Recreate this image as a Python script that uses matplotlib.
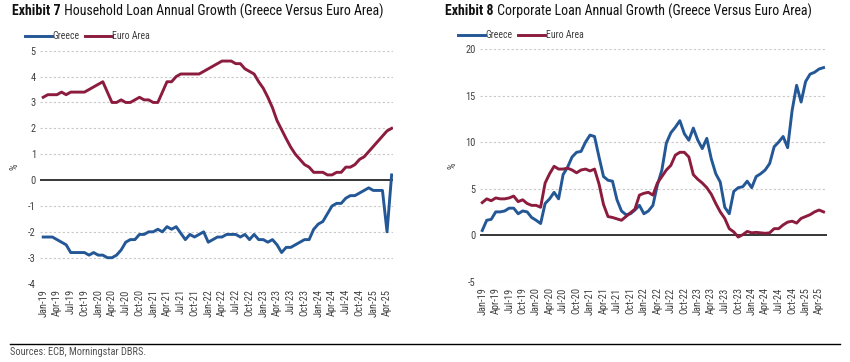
import matplotlib
matplotlib.use("Agg")
import matplotlib.pyplot as plt
from matplotlib import font_manager
import pandas as pd

# ---------------- data ----------------
months = pd.date_range("2019-01-01", periods=77, freq="MS")
month_labels = [d.strftime("%b-%y") for d in months]

household_greece = [
    -2.2, -2.2, -2.2, -2.3, -2.4, -2.5, -2.8, -2.8, -2.8, -2.8,
    -2.9, -2.8, -2.9, -2.9, -3.0, -3.0, -2.9, -2.7, -2.4, -2.3,
    -2.3, -2.1, -2.1, -2.0, -2.0, -1.9, -2.0, -1.8, -1.9, -1.8,
    -2.05, -2.3, -2.1, -2.2, -2.1, -2.0, -2.4, -2.3, -2.2, -2.2,
    -2.1, -2.1, -2.1, -2.2, -2.1, -2.3, -2.1, -2.3, -2.3, -2.4,
    -2.3, -2.5, -2.8, -2.6, -2.6, -2.5, -2.4, -2.3, -2.3, -1.9,
    -1.7, -1.6, -1.3, -1.0, -0.9, -0.9, -0.7, -0.6, -0.6, -0.5,
    -0.4, -0.3, -0.4, -0.4, -0.4, -2.0, 0.2,
]
household_euro = [
    3.2, 3.3, 3.3, 3.3, 3.4, 3.3, 3.4, 3.4, 3.4, 3.4,
    3.5, 3.6, 3.7, 3.8, 3.4, 3.0, 3.0, 3.1, 3.0, 3.0,
    3.1, 3.2, 3.1, 3.1, 3.0, 3.0, 3.4, 3.8, 3.8, 4.0,
    4.1, 4.1, 4.1, 4.1, 4.1, 4.2, 4.3, 4.4, 4.5, 4.6,
    4.6, 4.6, 4.5, 4.5, 4.3, 4.2, 4.1, 3.8, 3.55, 3.2,
    2.8, 2.3, 1.95, 1.6, 1.27, 1.0, 0.8, 0.6, 0.5, 0.3,
    0.3, 0.3, 0.2, 0.2, 0.3, 0.3, 0.5, 0.5, 0.6, 0.8,
    0.9, 1.1, 1.3, 1.5, 1.7, 1.9, 2.0,
]
corporate_greece = [
    0.5, 1.6, 1.7, 2.5, 2.5, 2.6, 2.9, 2.9, 2.3, 2.6,
    2.5, 1.9, 1.6, 1.25, 3.4, 3.9, 4.6, 3.9, 6.5, 7.3,
    8.4, 8.9, 9.0, 10.0, 10.75, 10.6, 8.4, 6.3, 5.9, 5.8,
    3.8, 2.6, 2.2, 2.3, 2.7, 3.2, 2.3, 2.6, 3.2, 5.4,
    7.0, 9.9, 11.0, 11.6, 12.3, 10.9, 10.2, 11.5, 10.2, 9.3,
    10.4, 8.2, 6.6, 5.7, 3.0, 2.3, 4.7, 5.1, 5.2, 5.8,
    5.1, 6.3, 6.6, 7.0, 7.7, 9.5, 10.0, 10.6, 9.4, 13.4,
    16.1, 14.3, 16.5, 17.3, 17.5, 17.85, 18.0,
]
corporate_euro = [
    3.5, 3.9, 3.7, 4.0, 3.9, 3.9, 4.0, 4.2, 3.6, 3.8,
    3.4, 3.2, 3.2, 3.0, 5.6, 6.6, 7.4, 7.1, 7.1, 7.2,
    7.0, 6.7, 7.0, 7.1, 6.9, 7.1, 5.5, 3.3, 2.0, 1.9,
    1.75, 1.6, 2.0, 2.4, 2.8, 4.3, 4.5, 4.6, 4.3, 5.6,
    6.3, 7.0, 7.5, 8.6, 8.9, 8.9, 8.4, 6.5, 6.0, 5.6,
    5.1, 4.4, 3.4, 2.5, 1.8, 0.7, 0.35, -0.2, 0.05, 0.4,
    0.25, 0.3, 0.25, 0.2, 0.25, 0.7, 0.7, 1.1, 1.4, 1.5,
    1.3, 1.8, 2.0, 2.2, 2.5, 2.7, 2.5,
]

series_names = ["Greece", "Euro Area"]
title_bold = ["Exhibit 7", "Exhibit 8"]
title_rest = [" Household Loan Annual Growth (Greece Versus Euro Area)",
              " Corporate Loan Annual Growth (Greece Versus Euro Area)"]
source_text = "Sources: ECB, Morningstar DBRS."

# ---------------- style ----------------
available = {f.name for f in font_manager.fontManager.ttflist}
narrow = None
for cand in ["Liberation Sans Narrow", "Roboto Condensed", "Open Sans Condensed",
             "DejaVu Sans Condensed"]:
    if cand in available:
        narrow = cand
        break
fam = [narrow, "DejaVu Sans"] if narrow else ["DejaVu Sans"]
plt.rcParams["font.family"] = fam

BLUE = "#245796"
RED = "#8c1c3e"
GRID = "#c8c8c8"
TXT = "#404040"

fig = plt.figure(figsize=(8.5, 3.62), dpi=100)

ax1 = fig.add_axes([40 / 850, 1 - 283.6 / 362, (393 - 40) / 850, (283.6 - 50.7) / 362])
ax2 = fig.add_axes([480 / 850, 1 - 281.7 / 362, (826.7 - 480) / 850, (281.7 - 49) / 362])

x = list(range(len(months)))
tick_idx = list(range(0, len(months), 3))


def style(ax, yticks, ylim, xlim):
    for s in ax.spines.values():
        s.set_visible(False)
    ax.set_ylim(*ylim)
    ax.set_xlim(*xlim)
    ax.set_yticks(yticks)
    ax.set_yticklabels([str(v) for v in yticks])
    ax.set_xticks(tick_idx)
    ax.set_xticklabels([month_labels[i] for i in tick_idx], rotation=90)
    ax.tick_params(length=0, labelsize=7.5, colors=TXT, pad=3)
    ax.tick_params(axis="x", pad=4)
    for v in yticks:
        if v != 0:
            ax.axhline(v, color=GRID, lw=0.8, ls=(0, (2, 2)), zorder=0)
    ax.axhline(0, color="black", lw=1.1, zorder=1)
    ax.set_ylabel("%", fontsize=7.5, color=TXT, labelpad=6)


ax1.plot(x, household_greece, color=BLUE, lw=2.1, solid_joinstyle="round", zorder=3)
ax1.plot(x, household_euro, color=RED, lw=2.1, solid_joinstyle="round", zorder=3)
style(ax1, list(range(-4, 6)), (-4, 5), (-0.7, 76.3))

ax2.plot(x, corporate_greece, color=BLUE, lw=2.1, solid_joinstyle="round", zorder=3)
ax2.plot(x, corporate_euro, color=RED, lw=2.1, solid_joinstyle="round", zorder=3)
style(ax2, list(range(-5, 25, 5)), (-5, 20), (-0.5, 76.7))

# legends (drawn manually in figure coords)
def legend(x0, y):
    X = lambda p: p / 850
    Y = 1 - y / 362
    fig.add_artist(plt.Line2D([X(x0), X(x0 + 27)], [Y, Y], color=BLUE, lw=2.1))
    fig.text(X(x0 + 27.5), Y, series_names[0], fontsize=7, color=TXT, va="center", ha="left")
    fig.add_artist(plt.Line2D([X(x0 + 60), X(x0 + 87)], [Y, Y], color=RED, lw=2.1))
    fig.text(X(x0 + 87.5), Y, series_names[1], fontsize=7, color=TXT, va="center", ha="left")

legend(25, 36)
legend(458, 35)

# titles with bold prefix
renderer = fig.canvas.get_renderer()
for xpix, b, r in [(12, title_bold[0], title_rest[0]), (445, title_bold[1], title_rest[1])]:
    t = fig.text(xpix / 850, 1 - 11 / 362, b, fontsize=10, fontweight="bold",
                 color="#111111", va="center", ha="left")
    bb = t.get_window_extent(renderer=renderer)
    fig.text(bb.x1 / 850, 1 - 11 / 362, r, fontsize=10, color="#111111",
             va="center", ha="left")

# source line
fig.add_artist(plt.Line2D([10 / 850, 840 / 850], [1 - 344 / 362, 1 - 344 / 362],
                          color="black", lw=1.0))
fig.text(10 / 850, 1 - 352 / 362, source_text, fontsize=7.5, color="#505050",
         va="center", ha="left")

fig.savefig("out.png", dpi=100)
